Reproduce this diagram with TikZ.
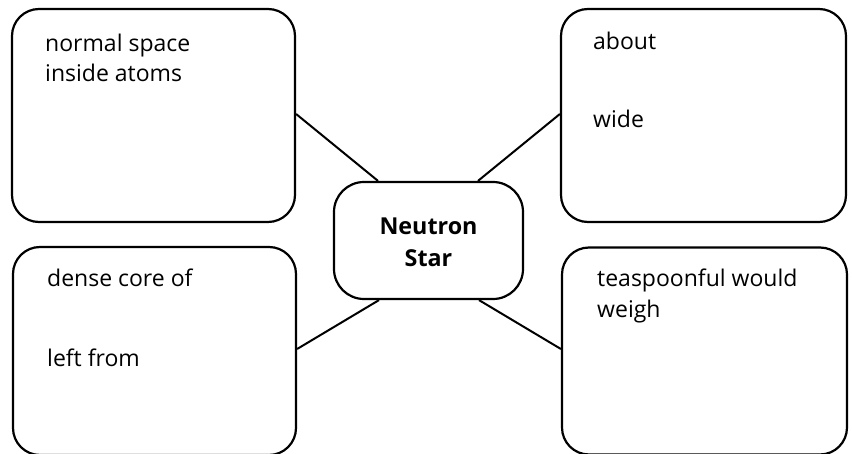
\documentclass[tikz,border=0pt]{standalone}
\usepackage{fontspec}
\setmainfont{Open Sans}
\begin{document}
\begin{tikzpicture}[x=1pt,y=-1pt,
  card/.style={draw=black,line width=2.2pt,rounded corners=27pt,inner sep=0pt},
  hub/.style={draw=black,line width=2.2pt,rounded corners=30pt,inner sep=0pt},
  link/.style={draw=black,line width=2pt},
  txt/.style={anchor=base west,inner sep=0pt,font=\fontsize{23}{28}\selectfont},
  hubtxt/.style={anchor=base,inner sep=0pt,font=\fontsize{23.3}{28}\selectfont\bfseries}]
\useasboundingbox (0,0) rectangle (852,454);
% four outer cards
\node[card,minimum width=283pt,minimum height=213pt] (tl) at (153.5,115.5) {};
\node[card,minimum width=285pt,minimum height=213pt] (tr) at (703.5,115.5) {};
\node[card,minimum width=283pt,minimum height=208pt] (bl) at (154.5,351) {};
\node[card,minimum width=285pt,minimum height=207pt] (br) at (704.5,351) {};
% central hub
\node[hub,minimum width=189pt,minimum height=117pt] (c) at (428.5,240.5) {};
\node[hubtxt] (c1) at (428.5,235) {Neutron};
\node[hubtxt] (c2) at (428.5,267) {Star};
% texts
\node[txt] (t1) at (45,52) {normal space};
\node[txt] (t2) at (45,82) {inside atoms};
\node[txt] (t3) at (593,50) {about};
\node[txt] (t4) at (593,128) {wide};
\node[txt] (t5) at (47,287) {dense core of};
\node[txt] (t6) at (47,367) {left from};
\node[txt] (t7) at (597,287) {teaspoonful would};
\node[txt] (t8) at (597,318) {weigh};
% connectors
\draw[link] ([yshift=1.5pt]tl.east) -- ([xshift=-50.5pt]c.north);
\draw[link] ([xshift=49.5pt]c.north) -- ([yshift=1.5pt]tr.west);
\draw[link] ([yshift=2pt]bl.east) -- ([xshift=-49.5pt]c.south);
\draw[link] ([xshift=50.5pt]c.south) -- ([yshift=2pt]br.west);
\end{tikzpicture}
\end{document}
